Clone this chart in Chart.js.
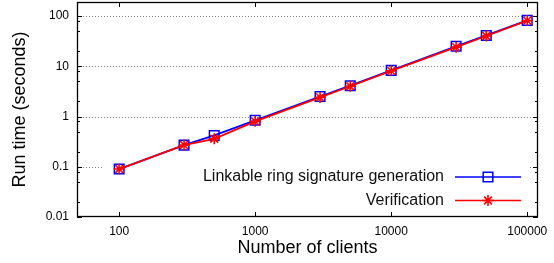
<!DOCTYPE html>
<html>
<head>
<meta charset="utf-8">
<script src="https://cdn.jsdelivr.net/npm/chart.js@4/dist/chart.umd.min.js"></script>
<style>
  html, body { margin: 0; padding: 0; background: #fff; }
  #wrap { width: 554px; height: 263px; }
</style>
</head>
<body>
<div id="wrap"><canvas id="runChart"></canvas></div>
<script>
// data (log-log)
const clients = [100, 300, 500, 1000, 3000, 5000, 10000, 30000, 50000, 100000];
const genTimes = [0.09, 0.27, 0.42, 0.84, 2.5, 4.1, 8.3, 25, 41, 82];
const verTimes = [0.09, 0.27, 0.36, 0.8, 2.4, 4.0, 8.1, 24, 40, 81];

const xTicks = [100, 1000, 10000, 100000];
const yTicks = [0.01, 0.1, 1, 10, 100];
const yMinor = [2, 5, 8];

const seriesLabels = ["Linkable ring signature generation", "Verification"];

const FONT = "'Liberation Sans', Arial, Helvetica, sans-serif";

// frame, ticks on all sides, dotted grid and the key (gnuplot look)
const gnuplotFrame = {
    id: "gnuplotFrame",
    beforeDatasetsDraw(chart) {
        const { ctx, chartArea: a, scales: { y } } = chart;
        ctx.save();
        ctx.strokeStyle = "#808080";
        ctx.lineWidth = 1;
        ctx.setLineDash([1, 2]);
        yTicks.forEach((v) => {
            const py = Math.round(y.getPixelForValue(v)) + 0.5;
            if (py > a.bottom - 2) return;
            ctx.beginPath();
            ctx.moveTo(a.left, py);
            ctx.lineTo(a.right, py);
            ctx.stroke();
        });
        ctx.setLineDash([]);
        // key area hides the grid
        ctx.fillStyle = "#fff";
        ctx.fillRect(a.left + 25, a.bottom - 56, a.right - a.left - 33, 54);
        ctx.restore();
    },
    afterDatasetsDraw(chart) {
        const { ctx, chartArea: a, scales: { x, y } } = chart;
        ctx.save();
        ctx.strokeStyle = "#000";
        ctx.lineWidth = 1;
        const tick = (x1, y1, x2, y2) => {
            ctx.beginPath();
            ctx.moveTo(x1, y1);
            ctx.lineTo(x2, y2);
            ctx.stroke();
        };
        yTicks.forEach((v) => {
            const py = Math.round(y.getPixelForValue(v)) + 0.5;
            tick(a.left, py, a.left + 5, py);
            tick(a.right, py, a.right - 5, py);
            yMinor.forEach((m) => {
                const mv = v * m;
                if (mv > y.max) return;
                const my = Math.round(y.getPixelForValue(mv)) + 0.5;
                tick(a.left, my, a.left + 3, my);
                tick(a.right, my, a.right - 3, my);
            });
        });
        xTicks.forEach((v) => {
            const px = Math.round(x.getPixelForValue(v)) + 0.5;
            tick(px, a.bottom, px, a.bottom - 5);
            tick(px, a.top, px, a.top + 5);
        });
        ctx.lineWidth = 1.3;
        ctx.strokeRect(a.left + 0.5, a.top + 0.5, a.right - a.left - 1, a.bottom - a.top - 1);

        // key
        const textRight = a.right - 94;
        const lineStart = a.right - 83;
        const lineEnd = a.right - 17;
        const mid = (lineStart + lineEnd) / 2;
        ctx.font = "16px " + FONT;
        ctx.textAlign = "right";
        ctx.textBaseline = "middle";
        chart.data.datasets.forEach((ds, i) => {
            const ky = a.bottom - 40 + i * 23.5;
            ctx.fillStyle = "#111";
            ctx.fillText(seriesLabels[i], textRight, ky);
            ctx.strokeStyle = ds.borderColor;
            ctx.lineWidth = 1.6;
            tick(lineStart, ky, lineEnd, ky);
            ctx.fillStyle = ds.pointBackgroundColor;
            ctx.lineWidth = ds.pointBorderWidth;
            Chart.helpers.drawPoint(ctx, {
                pointStyle: ds.pointStyle,
                radius: ds.pointRadius,
                borderWidth: ds.pointBorderWidth,
            }, mid, ky);
        });
        ctx.restore();
    },
};

const ctx = document.getElementById("runChart").getContext("2d");
const runChart = new Chart(ctx, {
    type: "line",
    data: {
        labels: clients,
        datasets: [
            {
                label: seriesLabels[0],
                data: clients.map((c, i) => ({ x: c, y: genTimes[i] })),
                borderColor: "#0000ff",
                backgroundColor: "rgba(0,0,0,0)",
                borderWidth: 1.8,
                pointStyle: "rect",
                pointRadius: 6.8,
                pointBorderWidth: 1.5,
                pointBackgroundColor: "rgba(0,0,0,0)",
                pointBorderColor: "#0000ff",
                order: 2,
            },
            {
                label: seriesLabels[1],
                data: clients.map((c, i) => ({ x: c, y: verTimes[i] })),
                borderColor: "#ff0000",
                backgroundColor: "rgba(0,0,0,0)",
                borderWidth: 1.8,
                pointStyle: "star",
                pointRadius: 5.5,
                pointBorderWidth: 1.6,
                pointBackgroundColor: "#ff0000",
                pointBorderColor: "#ff0000",
                order: 1,
            },
        ],
    },
    options: {
        responsive: true,
        maintainAspectRatio: false,
        animation: false,
        layout: { autoPadding: false, padding: { top: 2, right: 16, left: 0, bottom: 0 } },
        plugins: {
            legend: { display: false },
            tooltip: { enabled: false },
        },
        elements: { line: { tension: 0 } },
        scales: {
            x: {
                type: "logarithmic",
                min: 49,
                max: 120000,
                grid: { display: false, drawTicks: false },
                border: { display: false },
                afterBuildTicks: (scale) => {
                    scale.ticks = xTicks.map((v) => ({ value: v }));
                },
                afterFit: (scale) => {
                    scale.height = 46;
                    scale.paddingLeft = 0;
                    scale.paddingRight = 0;
                },
                ticks: {
                    autoSkip: false,
                    maxRotation: 0,
                    padding: 7,
                    color: "#000",
                    font: { family: FONT, size: 12 },
                    callback: (v) => String(v),
                },
                title: {
                    display: true,
                    text: "Number of clients",
                    color: "#000",
                    font: { family: FONT, size: 18 },
                    padding: { top: 0, bottom: 4 },
                },
            },
            y: {
                type: "logarithmic",
                min: 0.01,
                max: 190,
                grid: { display: false, drawTicks: false },
                border: { display: false },
                afterBuildTicks: (scale) => {
                    scale.ticks = yTicks.map((v) => ({ value: v }));
                },
                afterFit: (scale) => {
                    scale.width = 77;
                    scale.paddingTop = 0;
                    scale.paddingBottom = 0;
                },
                ticks: {
                    autoSkip: false,
                    padding: 8,
                    color: "#000",
                    font: { family: FONT, size: 12 },
                    callback: (v) => String(v),
                },
                title: {
                    display: true,
                    text: "Run time (seconds)",
                    color: "#000",
                    font: { family: FONT, size: 18 },
                    padding: { top: 9, bottom: 0 },
                },
            },
        },
    },
    plugins: [gnuplotFrame],
});
</script>
</body>
</html>
